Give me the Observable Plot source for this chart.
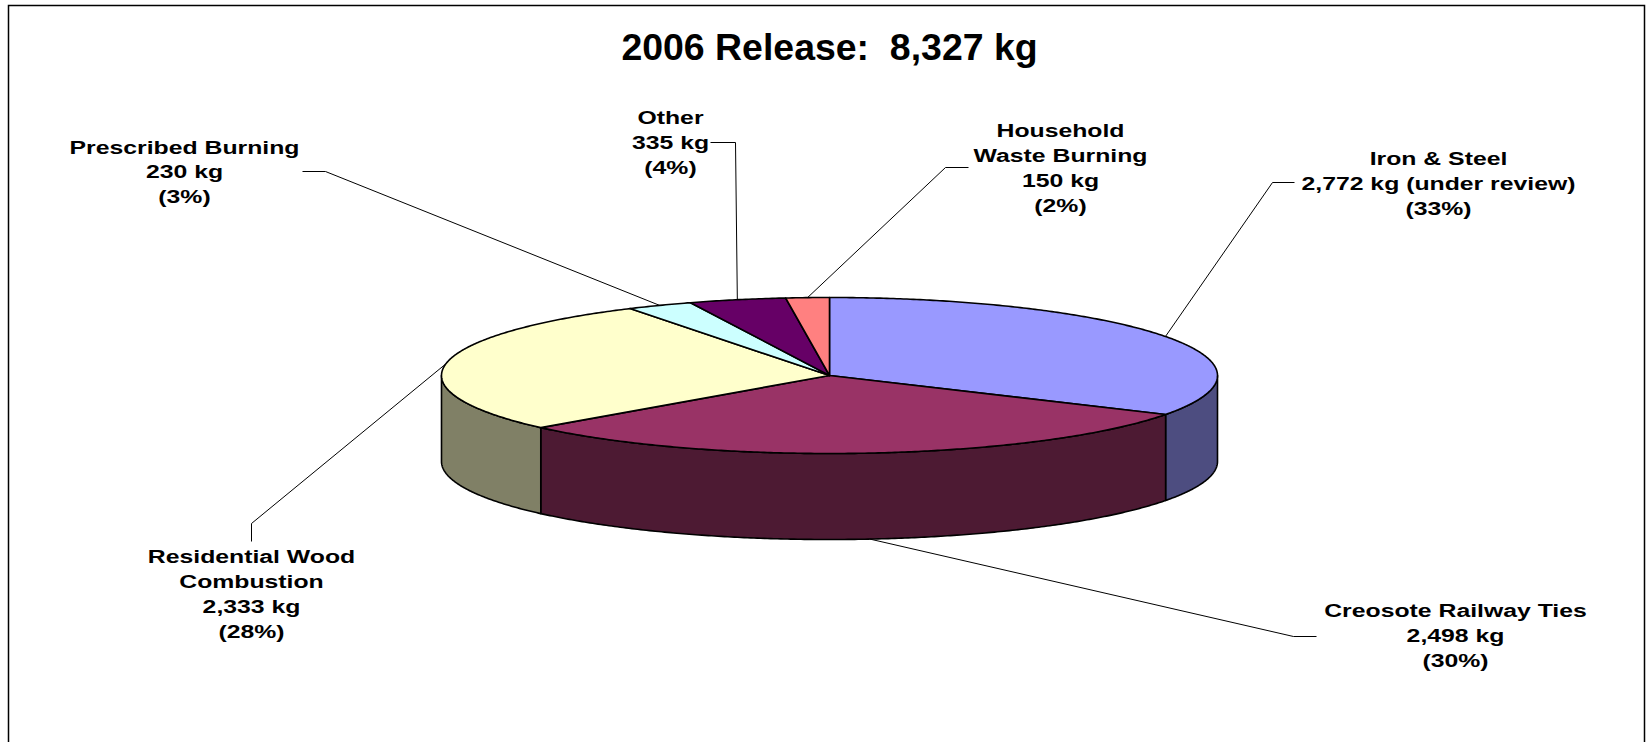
<!DOCTYPE html>
<html>
<head>
<meta charset="utf-8">
<script src="https://cdn.jsdelivr.net/npm/d3@7"></script>
<script src="https://cdn.jsdelivr.net/npm/@observablehq/plot@0.6"></script>
<style>
  html, body { margin: 0; padding: 0; background: #fff; overflow: hidden; }
</style>
</head>
<body>
<div id="chart"></div>
<script>
// ---- data ----
const title = "2006 Release:  8,327 kg";
const categories = ["Iron & Steel", "Creosote Railway Ties", "Residential Wood Combustion", "Prescribed Burning", "Other", "Household Waste Burning"];
const labelNames = ["Iron & Steel", "Creosote Railway Ties", "Residential Wood\nCombustion", "Prescribed Burning", "Other", "Household\nWaste Burning"];
const values = [2772, 2498, 2333, 230, 335, 150];
const percents = [33, 30, 28, 3, 4, 2];
const notes = [" (under review)", "", "", "", "", ""];
const topColors = ["#9999FF", "#993366", "#FFFFCC", "#CCFFFF", "#660066", "#FF8080"];
const sideColors = ["#4D4D80", "#4D1A33", "#808066", "#668080", "#330033", "#804040"];

// ---- layout ----
const W = 1651, H = 742;
const pie = {cx: 829, cy: 375, rx: 388, ry: 78, depth: 86};
const labelLayout = [
  {x: 1438, y: 181.3, elbow: [1272, 182], end: [1294, 182]},
  {x: 1455, y: 633.7, elbow: [1293, 636], end: [1316, 636]},
  {x: 251,  y: 592.2, elbow: [251, 523],  end: [251, 541]},
  {x: 184,  y: 170,   elbow: [325, 171],  end: [302, 171]},
  {x: 670,  y: 140.3, elbow: [735, 142],  end: [710, 142]},
  {x: 1060, y: 166,   elbow: [945, 167],  end: [968, 167]}
];

const total = d3.sum(values);
const fmt = d3.format(",");
const rad = d => d * Math.PI / 180;
const px = a => pie.cx + pie.rx * Math.sin(rad(a));
const py = a => pie.cy - pie.ry * Math.cos(rad(a));

// slice angles (Excel: start at 12 o'clock, clockwise)
let acc = 0;
const slices = values.map((v, i) => {
  const a0 = acc / total * 360;
  acc += v;
  const a1 = acc / total * 360;
  return {i, a0, a1, mid: (a0 + a1) / 2};
});

function arc(a0, a1) {
  const n = Math.max(2, Math.ceil((a1 - a0) / 0.5));
  return d3.range(n + 1).map(k => a0 + (a1 - a0) * k / n);
}

const marks = [];

// side walls (front half only)
slices.forEach(s => {
  const b0 = Math.max(s.a0, 90), b1 = Math.min(s.a1, 270);
  if (b1 <= b0) return;
  const angs = arc(b0, b1);
  const pts = angs.map(a => ({x: px(a), y: py(a)}))
    .concat(angs.slice().reverse().map(a => ({x: px(a), y: py(a) + pie.depth})));
  marks.push(Plot.line(pts, {x: "x", y: "y", curve: "linear-closed", fill: sideColors[s.i], stroke: "#000", strokeWidth: 1.6, strokeLinejoin: "round"}));
});

// top faces
slices.forEach(s => {
  const pts = [{x: pie.cx, y: pie.cy}].concat(arc(s.a0, s.a1).map(a => ({x: px(a), y: py(a)})));
  marks.push(Plot.line(pts, {x: "x", y: "y", curve: "linear-closed", fill: topColors[s.i], stroke: "#000", strokeWidth: 1.6, strokeLinejoin: "round"}));
});

// leader lines
slices.forEach(s => {
  const L = labelLayout[s.i];
  const front = s.mid > 90 && s.mid < 270;
  const start = {x: px(s.mid), y: py(s.mid) + (front ? pie.depth : 0)};
  const pts = [start, {x: L.elbow[0], y: L.elbow[1]}, {x: L.end[0], y: L.end[1]}];
  marks.push(Plot.line(pts, {x: "x", y: "y", stroke: "#000", strokeWidth: 1, strokeLinecap: "butt", strokeLinejoin: "miter"}));
});

// labels
const labelData = slices.map(s => ({
  x: labelLayout[s.i].x,
  y: labelLayout[s.i].y,
  text: `${labelNames[s.i]}\n${fmt(values[s.i])} kg${notes[s.i]}\n(${percents[s.i]}%)`
}));
marks.push(Plot.text(labelData, {
  x: "x", y: "y", text: "text",
  fontSize: 18.5, fontWeight: "bold", fontFamily: "'Liberation Sans', Arial, sans-serif",
  lineHeight: 1.35, lineAnchor: "middle", textAnchor: "middle", fill: "#000"
}));

// title
marks.push(Plot.text([title], {
  frameAnchor: "top", dx: 3, dy: 42.5, text: d => d,
  fontSize: 36, fontWeight: "bold", fontFamily: "'Liberation Sans', Arial, sans-serif",
  lineAnchor: "middle", textAnchor: "middle", fill: "#000"
}));

// frame (bottom edge lies below the visible area, as in the reference)
marks.push(Plot.frame({stroke: "#000", strokeWidth: 1.5, insetBottom: -12}));

const chart = Plot.plot({
  width: W, height: H,
  marginLeft: 8, marginRight: 7, marginTop: 5, marginBottom: 0,
  x: {type: "linear", domain: [8, W - 7], range: [8, W - 7], axis: null},
  y: {type: "linear", domain: [5, H], range: [5, H], axis: null},
  style: {background: "#fff", color: "#000", overflow: "hidden"},
  marks
});

// horizontally widen the data labels (as in the reference rendering)
chart.querySelectorAll("text").forEach(t => {
  if (t.textContent === title) {
    t.setAttribute("transform", (t.getAttribute("transform") || "") + " scale(1.04,1)");
  } else {
    t.setAttribute("transform", (t.getAttribute("transform") || "") + " scale(1.34,1)");
  }
});

document.getElementById("chart").appendChild(chart);
</script>
</body>
</html>
